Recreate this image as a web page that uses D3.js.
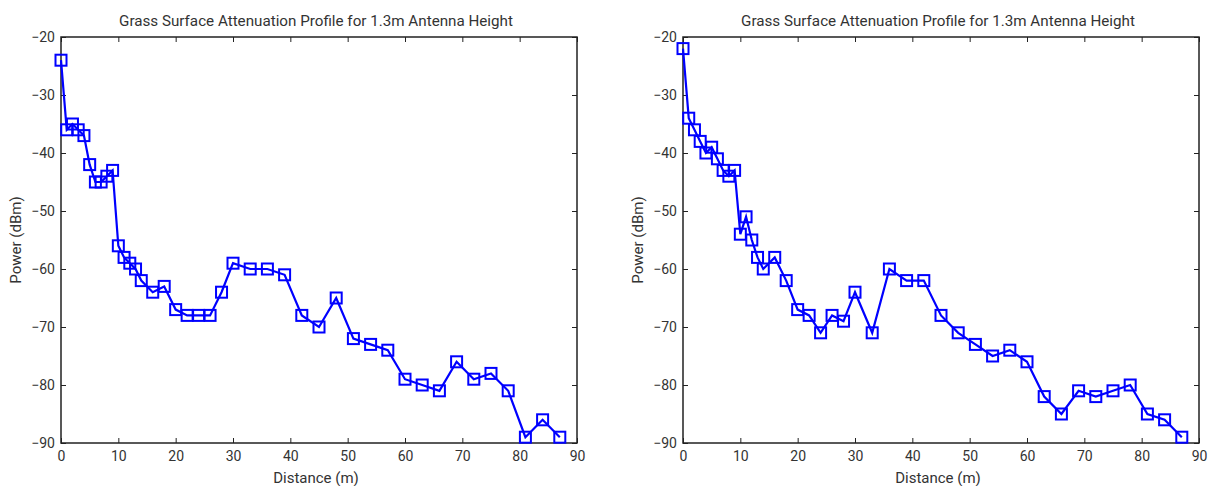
<!DOCTYPE html>
<html><head><meta charset="utf-8">
<script src="https://cdn.jsdelivr.net/npm/d3@7"></script>
<style>
body{margin:0;background:#fff;}
text{font-family:Roboto,"Noto Sans",sans-serif;fill:#333;}
</style></head>
<body><svg id="c" width="1213" height="486"></svg>
<script>
const distance = [0,1,2,3,4,5,6,7,8,9,10,11,12,13,14,16,18,20,22,24,26,28,30,33,36,39,42,45,48,51,54,57,60,63,66,69,72,75,78,81,84,87];
const powerLeft = [-24,-36,-35,-36,-37,-42,-45,-45,-44,-43,-56,-58,-59,-60,-62,-64,-63,-67,-68,-68,-68,-64,-59,-60,-60,-61,-68,-70,-65,-72,-73,-74,-79,-80,-81,-76,-79,-78,-81,-89,-86,-89];
const powerRight = [-22,-34,-36,-38,-40,-39,-41,-43,-44,-43,-54,-51,-55,-58,-60,-58,-62,-67,-68,-71,-68,-69,-64,-71,-60,-62,-62,-68,-71,-73,-75,-74,-76,-82,-85,-81,-82,-81,-80,-85,-86,-89];
const xTicks = [0,10,20,30,40,50,60,70,80,90];
const yTicks = [-90,-80,-70,-60,-50,-40,-30,-20];
const titleText = "Grass Surface Attenuation Profile for 1.3m Antenna Height";
const xLabel = "Distance (m)";
const yLabel = "Power (dBm)";

const svg = d3.select("#c");
function panel(left, values){
  const w = 516, h = 406, top = 37;
  const g = svg.append("g").attr("transform",`translate(${left},${top})`);
  const x = d3.scaleLinear().domain([0,90]).range([0,w]);
  const y = d3.scaleLinear().domain([-90,-20]).range([h,0]);
  const tl = 5;
  const xb = g.append("g").attr("transform",`translate(0,${h})`)
    .call(d3.axisBottom(x).tickValues(xTicks).tickSize(-tl).tickPadding(8));
  const xt = g.append("g").call(d3.axisTop(x).tickValues(xTicks).tickSize(-tl).tickFormat(""));
  const yl = g.append("g").call(d3.axisLeft(y).tickValues(yTicks).tickSize(-tl).tickPadding(6));
  const yr = g.append("g").attr("transform",`translate(${w},0)`)
    .call(d3.axisRight(y).tickValues(yTicks).tickSize(-tl).tickFormat(""));
  [xb,xt,yl,yr].forEach(a=>{
    a.select(".domain").remove();
    a.selectAll(".tick line").attr("stroke","#222").attr("stroke-width",1);
    a.selectAll("text").attr("font-size",14).attr("fill","#333").style("font-family","Roboto");
  });
  g.append("rect").attr("width",w).attr("height",h).attr("fill","none")
    .attr("stroke","#222").attr("stroke-width",1.5);
  const data = distance.map((d,i)=>[d,values[i]]);
  g.append("path").datum(data).attr("fill","none").attr("stroke","#0000ff")
    .attr("stroke-width",2.2).attr("d",d3.line().x(d=>x(d[0])).y(d=>y(d[1])));
  g.selectAll("rect.m").data(data).enter().append("rect").attr("class","m")
    .attr("x",d=>x(d[0])-5.5).attr("y",d=>y(d[1])-5.5).attr("width",11).attr("height",11)
    .attr("fill","none").attr("stroke","#0000ff").attr("stroke-width",2);
  g.append("text").attr("x",w/2-3).attr("y",-11).attr("text-anchor","middle")
    .attr("font-size",15.2).text(titleText);
  g.append("text").attr("x",w/2-3).attr("y",h+40).attr("text-anchor","middle")
    .attr("font-size",15).text(xLabel);
  g.append("text").attr("transform",`translate(-40,${h/2}) rotate(-90)`).attr("text-anchor","middle")
    .attr("font-size",15).text(yLabel);
}
panel(61, powerLeft);
panel(683, powerRight);
</script></body></html>
